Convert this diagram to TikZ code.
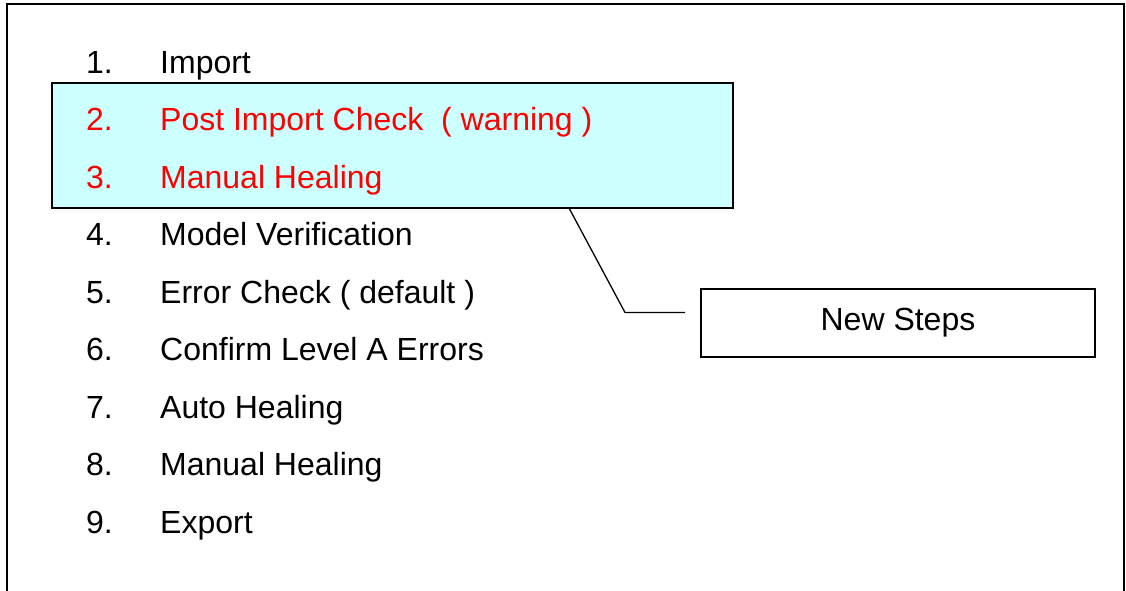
\documentclass[tikz,border=0pt]{standalone}
\usepackage{fontspec}
\setmainfont{Liberation Sans}
\definecolor{boxcyan}{HTML}{CCFFFF}
\definecolor{stepred}{HTML}{FF0000}
\begin{document}
\begin{tikzpicture}[x=1pt,y=-1pt,
  txt/.style={anchor=base west,inner sep=0pt,font=\fontsize{32}{37}\selectfont},
  frameline/.style={line width=1.8pt,black},
  hlbox/.style={draw=black,line width=1.8pt,fill=boxcyan,inner sep=0pt},
  notebox/.style={draw=black,line width=1.8pt,fill=white,inner sep=0pt,font=\fontsize{32}{37}\selectfont},
  callout/.style={line width=1.3pt,black}]
\useasboundingbox (0,0) rectangle (1126,590);
% outer frame, open at the bottom
\draw[frameline] (7,592) -- (7,4) -- (1124,4) -- (1124,592);
% highlight box
\node[hlbox,minimum width=681pt,minimum height=125pt] (newbox) at (392.5,145.5) {};
% list
\foreach \n/\t/\c [count=\i from 0] in {1/Import/black,2/{Post Import Check\ \ ( warning )}/stepred,3/Manual Healing/stepred,4/Model Verification/black,5/{Error Check ( default )}/black,6/Confirm Level A Errors/black,7/Auto Healing/black,8/Manual Healing/black,9/Export/black}{
  \node[txt,text=\c] (num\n) at (86,73+57.5*\i) {\n.};
  \node[txt,text=\c] (item\n) at (160,73+57.5*\i) {\t};
}
% note box
\node[notebox,minimum width=394pt,minimum height=68pt] (note) at (898,323) {New Steps};
% callout
\coordinate (cstart) at (569,208);
\coordinate (cbend) at (625,312.5);
\coordinate (cend) at (685,312.5);
\draw[callout] (cstart) -- (cbend) -- (cend);
\end{tikzpicture}
\end{document}
